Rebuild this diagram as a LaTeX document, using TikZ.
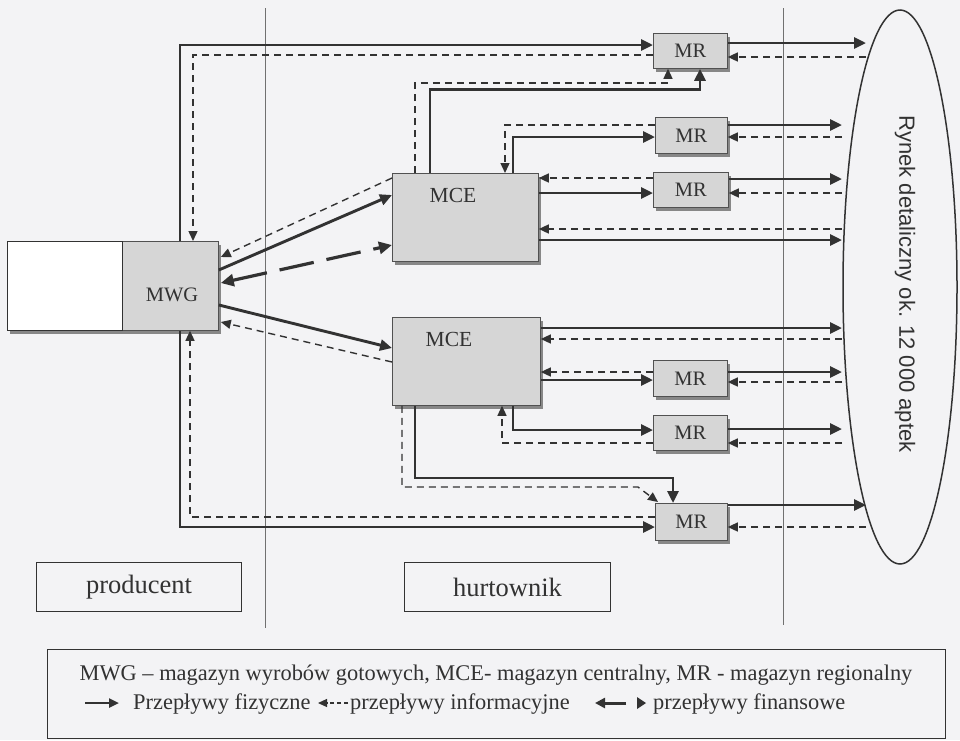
\documentclass[tikz,border=0pt]{standalone}
\usepackage{fontspec}
\setmainfont{Liberation Serif}
\newfontfamily\sansf{Liberation Sans}
\usetikzlibrary{arrows.meta,shadows,calc,shapes.geometric}
\definecolor{bg}{RGB}{243,243,245}
\definecolor{boxfill}{RGB}{214,214,214}
\definecolor{shad}{RGB}{135,135,135}
\definecolor{ink}{RGB}{50,50,50}
\begin{document}
\begin{tikzpicture}[x=1pt,y=-1pt,line join=miter,
  box/.style={draw=ink!85, line width=0.8pt, fill=boxfill, inner sep=0pt, anchor=north west,
     drop shadow={shadow xshift=3pt, shadow yshift=-4pt, fill=shad, opacity=1}},
  plain/.style={draw=ink, line width=1pt, inner sep=0pt, anchor=north west},
  lbl/.style={font=\fontsize{20.5}{24}\selectfont, text=ink, inner sep=0pt},
  lblc/.style={font=\fontsize{21.5}{24}\selectfont, text=ink, inner sep=0pt},
  leg/.style={font=\fontsize{22.4}{26}\selectfont, text=ink, inner sep=0pt},
  phys/.style={line width=2.9pt, draw=ink, -{Triangle[length=12pt,width=11pt]}},
  info/.style={line width=1.4pt, draw=ink, dash pattern=on 7pt off 5pt, -{Triangle[length=10pt,width=9pt]}},
  fin/.style={line width=3.2pt, draw=ink, dash pattern=on 35pt off 13pt,
     {Triangle[length=13pt,width=12pt]}-{Triangle[length=13pt,width=12pt]}},
  sep/.style={line width=0.6pt, draw=ink!70}
]
\fill[bg] (0,0) rectangle (960,740);
\useasboundingbox (0,0) rectangle (960,740);

% column separators
\coordinate (s1a) at (265,8);  \coordinate (s1b) at (265,628);
\coordinate (s2a) at (783,8);  \coordinate (s2b) at (783,625);
\draw[sep] (s1a) -- (s1b);
\draw[sep] (s2a) -- (s2b);

% ellipse market
\node[ellipse, draw=ink, line width=1.5pt, minimum width=114pt, minimum height=554pt, inner sep=0pt] (rynek) at (900,287) {};
\node[rotate=-90, font=\sansf\fontsize{22}{26}\selectfont, text=ink] (rynekt) at (905,284) {Rynek detaliczny ok. 12 000 aptek};
\coordinate (rx) at (842,0);
\coordinate (rxa) at (866,0);

% boxes
\node[box, minimum width=211pt, minimum height=89pt] (mwg) at (7,241) {};
\node[plain, line width=0.8pt, fill=white, minimum width=115pt, minimum height=89pt] (mwgw) at (7,241) {};
\node[lbl] (mwgt) at (172,295) {MWG};

\node[box, minimum width=146pt, minimum height=88pt] (mce1) at (392,173) {};
\node[lblc] (mce1t) at ($(mce1.north west)+(61,22)$) {MCE};
\node[box, minimum width=148pt, minimum height=88pt] (mce2) at (392,317) {};
\node[lblc] (mce2t) at ($(mce2.north west)+(57,22)$) {MCE};

\node[box, minimum width=74pt, minimum height=35pt] (mr1) at (653,33) {};
\node[lbl] at (mr1.center) {MR};
\node[box, minimum width=72pt, minimum height=36pt] (mr2) at (655,117) {};
\node[lbl] at (mr2.center) {MR};
\node[box, minimum width=75pt, minimum height=35pt] (mr3) at (653,172) {};
\node[lbl] at (mr3.center) {MR};
\node[box, minimum width=74pt, minimum height=36pt] (mr4) at (653,360) {};
\node[lbl] at (mr4.center) {MR};
\node[box, minimum width=74pt, minimum height=35pt] (mr5) at (653,415) {};
\node[lbl] at (mr5.center) {MR};
\node[box, minimum width=72pt, minimum height=37pt] (mr6) at (655,503) {};
\node[lbl] at (mr6.center) {MR};

\node[plain, minimum width=205pt, minimum height=49pt] (prod) at (36,562) {};
\node[font=\fontsize{26.5}{30}\selectfont, text=ink] at (prod.center) {producent};
\node[plain, minimum width=206pt, minimum height=49pt] (hurt) at (404,562) {};
\node[font=\fontsize{26.5}{30}\selectfont, text=ink] at (hurt.center) {hurtownik};

% ---- MR1
\draw[phys] ($(mwg.north west)+(173,0)$) |- ($(mr1.north west)+(0,12)$);
\draw[info] ($(mr1.north west)+(0,22)$) -| ($(mwg.north west)+(186,0)$);
\draw[phys] ($(mr1.north east)+(0,10)$) coordinate (t) -- (t -| rxa);
\path ($(mr1.north east)+(0,24)$) coordinate (t); \draw[info] (t -| rxa) -- (t);
\draw[phys] ($(mce1.north west)+(38,0)$) |- ($(mr1.south west)+(47,21)$) -- ($(mr1.south west)+(47,0)$);
\draw[info] ($(mce1.north west)+(23,0)$) |- ($(mr1.south west)+(15,14)$) -- ($(mr1.south west)+(15,0)$);

% ---- MR2
\draw[phys] ($(mce1.north west)+(121,0)$) |- ($(mr2.north west)+(0,20)$);
\draw[info] ($(mr2.north west)+(0,8)$) -| ($(mce1.north west)+(113,0)$);
\draw[phys] ($(mr2.north east)+(0,8)$) coordinate (t) -- (t -| rx);
\path ($(mr2.north east)+(0,20)$) coordinate (t); \draw[info] (t -| rx) -- (t);

% ---- MR3
\path ($(mr3.north west)+(0,6)$) coordinate (t); \draw[info] (t) -- (t -| mce1.east);
\draw[phys] ($(mce1.north east)+(0,20)$) coordinate (t) -- (t -| mr3.west);
\draw[phys] ($(mr3.north east)+(0,7)$) coordinate (t) -- (t -| rx);
\path ($(mr3.north east)+(0,21)$) coordinate (t); \draw[info] (t -| rx) -- (t);

% ---- MCE1 direct to market
\path ($(mce1.north east)+(0,56)$) coordinate (t); \draw[info] (t -| rx) -- (t);
\draw[phys] ($(mce1.north east)+(0,67)$) coordinate (t) -- (t -| rx);

% ---- MCE2 direct to market
\draw[phys] ($(mce2.north east)+(0,11)$) coordinate (t) -- (t -| rx);
\path ($(mce2.north east)+(0,22)$) coordinate (t); \draw[info] (t -| rx) -- (t);

% ---- MR4
\path ($(mr4.north west)+(0,12)$) coordinate (t); \draw[info] (t) -- (t -| mce2.east);
\draw[phys] ($(mce2.north east)+(0,63)$) coordinate (t) -- (t -| mr4.west);
\draw[phys] ($(mr4.north east)+(0,12)$) coordinate (t) -- (t -| rx);
\path ($(mr4.north east)+(0,22)$) coordinate (t); \draw[info] (t -| rx) -- (t);

% ---- MR5
\draw[phys] ($(mce2.south west)+(121,0)$) |- ($(mr5.north west)+(0,15)$);
\draw[info] ($(mr5.north west)+(0,28)$) -| ($(mce2.south west)+(110,0)$);
\draw[phys] ($(mr5.north east)+(0,14)$) coordinate (t) -- (t -| rx);
\path ($(mr5.north east)+(0,28)$) coordinate (t); \draw[info] (t -| rx) -- (t);

% ---- MR6
\draw[phys] ($(mce2.south west)+(23,0)$) |- ($(mr6.north west)+(18,-25)$) -- ($(mr6.north west)+(18,0)$);
\draw[info] ($(mce2.south west)+(10,0)$) |- ($(mr6.north west)+(-17,-16)$) -- ($(mr6.north west)+(3,-1)$);
\draw[phys] ($(mwg.south west)+(173,0)$) |- ($(mr6.north west)+(0,24)$);
\draw[info] ($(mr6.north west)+(0,14)$) -| ($(mwg.south west)+(183,0)$);
\draw[phys] ($(mr6.north east)+(0,2)$) coordinate (t) -- (t -| rxa);
\path ($(mr6.north east)+(0,24)$) coordinate (t); \draw[info] (t -| rxa) -- (t);

% ---- MWG <-> MCE
\draw[info] ($(mce1.north west)+(0,5)$) -- ($(mwg.north east)+(2,16)$);
\draw[phys] ($(mwg.north east)+(0,29)$) -- ($(mce1.north west)+(0,22)$);
\draw[fin] ($(mwg.north east)+(2,42)$) -- ($(mce1.north west)+(0,72)$);
\draw[phys] ($(mwg.north east)+(0,64)$) -- ($(mce2.north west)+(0,31)$);
\draw[info] ($(mce2.north west)+(0,45)$) -- ($(mwg.north east)+(2,81)$);

% ---- legend
\node[plain, minimum width=898pt, minimum height=89pt] (legend) at (47,649) {};
\node[leg, anchor=base] (leg1) at (496,680) {MWG – magazyn wyrobów gotowych, MCE- magazyn centralny, MR - magazyn regionalny};
\coordinate (la1) at (85,703); \coordinate (la2) at (119,703);
\draw[line width=2.4pt, draw=ink, -{Triangle[length=10pt,width=9pt]}] (la1) -- (la2);
\node[leg, anchor=base west] (leg2) at (133,709) {Przepływy fizyczne};
\coordinate (lb1) at (348,703); \coordinate (lb2) at (318,703);
\draw[line width=1.2pt, draw=ink, dash pattern=on 4pt off 3pt, -{Triangle[length=9pt,width=8pt]}] (lb1) -- (lb2);
\node[leg, anchor=base west] (leg3) at (350,709) {przepływy informacyjne};
\coordinate (lc1) at (626,703); \coordinate (lc2) at (595,703);
\draw[line width=3pt, draw=ink, -{Triangle[length=10pt,width=10pt]}] (lc1) -- (lc2);
\fill[ink] (637,697) -- (646,703) -- (637,709) -- cycle;
\node[leg, anchor=base west] (leg4) at (653,709) {przepływy finansowe};
\end{tikzpicture}
\end{document}
